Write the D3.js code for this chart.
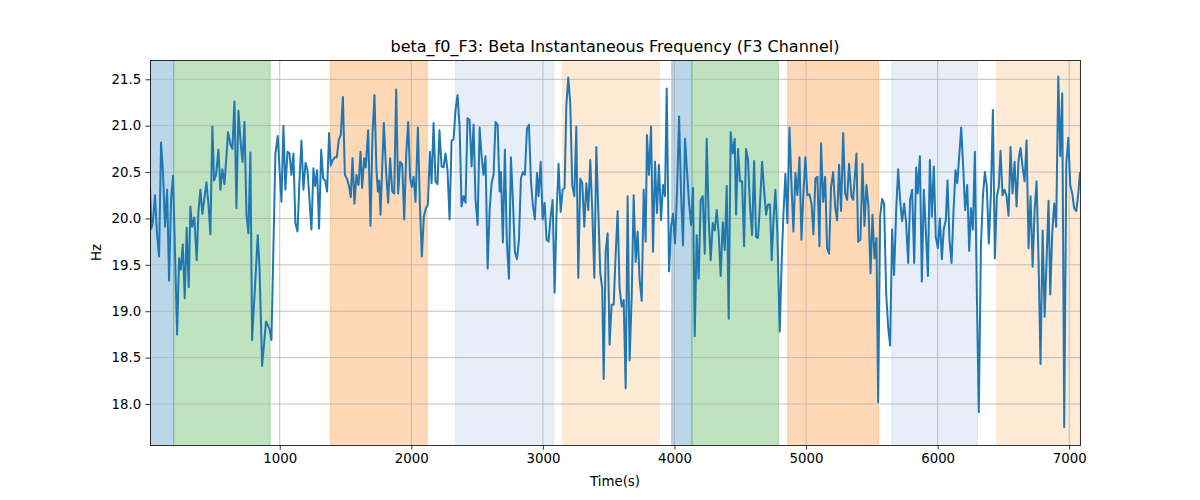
<!DOCTYPE html>
<html>
<head>
<meta charset="utf-8">
<script src="https://cdn.jsdelivr.net/npm/d3@7"></script>
<style>
  html, body { margin: 0; padding: 0; background: #ffffff; }
  svg { display: block; font-family: "DejaVu Sans", sans-serif; }
</style>
</head>
<body>
<svg id="chart" width="1200" height="500"></svg>
<script>
// ---- data ----
const times = [
  14, 24, 35, 52, 67, 83, 98, 113, 128, 144, 159, 174, 189, 220, 235, 248, 263, 278, 293, 308,
  321, 334, 351, 369, 382, 397, 412, 443, 458, 473, 488, 501, 516, 534, 549, 564, 580, 595, 607, 625,
  640, 656, 671, 686, 704, 717, 732, 747, 762, 777, 790, 833, 846, 866, 896, 922, 937,
  967, 985, 1000, 1013, 1028, 1043, 1059, 1074, 1089, 1104, 1119, 1135, 1150, 1165, 1180, 1196, 1211, 1226, 1241, 1256,
  1269, 1284, 1299, 1315, 1330, 1345, 1360, 1375, 1388, 1403, 1419, 1434, 1449, 1464, 1480, 1495, 1510, 1525, 1540, 1553,
  1568, 1583, 1599, 1614, 1626, 1642, 1654, 1672, 1690, 1705, 1720, 1735, 1746, 1756, 1766, 1791,
  1809, 1824, 1839, 1855, 1870, 1885, 1900, 1915, 1931, 1946, 1961, 1976, 1991, 2004, 2017, 2032, 2050, 2065, 2080, 2095,
  2111, 2126, 2141, 2154, 2169, 2184, 2199, 2214, 2230, 2245, 2260, 2275, 2291, 2306, 2321, 2336, 2351, 2367, 2382, 2397,
  2412, 2427, 2443, 2458, 2473, 2488, 2504, 2519, 2534, 2549, 2564, 2580, 2595, 2610, 2625, 2640, 2656, 2671,
  2681, 2696, 2711, 2726, 2742, 2757, 2772, 2787, 2803, 2818, 2833, 2848, 2863, 2879, 2894, 2909, 2924, 2939, 2955, 2967,
  2983, 2998, 3013, 3028, 3043, 3059, 3074, 3089, 3104, 3119, 3135, 3150, 3165, 3178, 3193, 3208, 3223, 3239, 3254, 3269,
  3284, 3299, 3315, 3330, 3345, 3360, 3375, 3391, 3406, 3421, 3436, 3451, 3462, 3477, 3492, 3507, 3522, 3538, 3553, 3568,
  3583, 3599, 3614, 3629, 3644, 3659, 3675, 3690, 3705, 3720, 3735, 3751, 3766, 3781, 3791, 3806, 3822, 3837, 3852, 3867,
  3882, 3898, 3913, 3928, 3941, 3959, 3974, 3989, 4004, 4019, 4035, 4050, 4065, 4080, 4095, 4111, 4126, 4141, 4154, 4169,
  4184, 4199, 4215, 4230, 4245, 4260, 4275, 4291, 4306, 4321, 4336, 4351, 4367, 4382, 4397, 4412, 4427, 4443, 4458,
  4468, 4483, 4498, 4514, 4529, 4544, 4559, 4574, 4590, 4605, 4620, 4635, 4650, 4666, 4681, 4696, 4711, 4726, 4739, 4754,
  4767, 4782, 4800, 4815, 4828, 4843, 4858, 4874, 4889, 4904, 4919, 4934, 4950, 4965, 4980, 4995, 5010, 5026, 5041, 5056,
  5071, 5086, 5102, 5114, 5130, 5145, 5160, 5175, 5190, 5206, 5221, 5236, 5251, 5266, 5282, 5297, 5312, 5327, 5345,
  5358, 5383, 5396, 5413, 5429, 5444, 5459, 5474, 5490, 5505, 5520, 5535, 5548, 5563, 5578, 5593, 5609, 5624, 5639, 5654,
  5669, 5685, 5700, 5715, 5730, 5746, 5761, 5776, 5791, 5806, 5822, 5837, 5849, 5865, 5880, 5895, 5910, 5926, 5941, 5956,
  5971, 5986, 6002, 6017, 6032, 6047, 6062, 6075, 6090, 6106, 6121, 6136, 6149, 6164, 6179, 6194, 6209, 6225, 6240,
  6253, 6268, 6283, 6298, 6313, 6329, 6344, 6359, 6374, 6389, 6405, 6420, 6435, 6450, 6465, 6478, 6493, 6509, 6524, 6539,
  6554, 6569, 6585, 6600, 6615, 6630, 6645, 6661, 6676, 6691, 6706, 6722, 6737, 6752, 6767, 6782, 6798, 6813, 6828, 6843,
  6856, 6871, 6886, 6901, 6917, 6932, 6947, 6962, 6978, 6993, 7008, 7023, 7038, 7054, 7069, 7082
];
const freqHz = [
  20.34, 19.89, 19.95, 20.25, 19.84, 19.59, 20.82, 20.49, 19.91, 20.31, 19.33, 20.20, 20.46, 18.75, 19.57, 19.45, 19.72, 19.14, 19.90, 19.26,
  20.13, 19.91, 20.01, 19.55, 20.07, 20.31, 20.05, 20.39, 20.16, 19.83, 20.99, 20.41, 20.47, 20.74, 20.31, 20.53, 20.37, 20.67, 20.93, 20.80,
  20.75, 21.26, 20.11, 21.16, 20.80, 20.61, 21.04, 20.05, 19.84, 20.71, 18.69, 19.82, 19.48, 18.41, 18.89, 18.81, 18.69,
  20.70, 20.89, 20.49, 20.18, 21.00, 20.31, 20.72, 20.70, 20.47, 20.70, 19.95, 19.86, 20.41, 20.84, 20.31, 20.60, 20.52, 20.20, 19.88, 20.54,
  20.35, 20.52, 19.89, 20.74, 20.43, 20.41, 20.29, 20.92, 20.57, 20.63, 20.66, 20.66, 20.85, 20.90, 21.31, 20.47, 20.43, 20.36, 20.23, 20.65,
  20.16, 20.47, 20.36, 20.72, 20.33, 20.65, 20.55, 20.95, 19.92, 20.90, 21.33, 20.52, 20.29, 20.41, 20.04, 21.03,
  20.49, 20.17, 20.65, 20.29, 20.27, 21.39, 20.27, 20.61, 20.58, 19.99, 20.68, 21.04, 20.43, 20.34, 20.45, 20.18, 20.98, 20.16, 19.59, 20.02,
  20.11, 20.15, 20.72, 20.38, 21.03, 20.40, 20.37, 20.95, 20.56, 20.55, 20.70, 20.52, 19.99, 20.84, 20.85, 21.17, 21.33, 20.99, 20.13, 20.24,
  20.17, 21.08, 21.06, 20.56, 21.01, 20.20, 19.93, 20.98, 20.67, 20.47, 20.67, 19.46, 20.09, 20.38, 20.47, 21.04, 21.01, 20.29,
  20.50, 19.74, 20.74, 19.75, 19.35, 20.66, 20.20, 19.64, 19.56, 19.77, 20.43, 20.50, 20.47, 20.97, 21.01, 20.41, 20.14, 19.99, 20.49, 20.24,
  20.61, 19.99, 20.17, 19.77, 19.75, 20.02, 20.20, 19.20, 20.07, 20.59, 20.07, 20.31, 20.33, 21.21, 21.52, 21.24, 20.36, 20.24, 20.99, 19.36,
  20.43, 20.38, 19.91, 20.38, 20.09, 20.63, 20.09, 19.36, 20.77, 20.09, 19.41, 19.25, 18.27, 19.64, 19.84, 18.64, 19.07, 19.07, 19.61, 20.08,
  19.25, 19.05, 19.12, 18.17, 20.24, 18.47, 19.16, 20.25, 19.53, 19.86, 19.34, 19.11, 20.31, 19.75, 20.90, 20.47, 20.99, 19.64, 20.61, 20.06,
  20.58, 19.98, 20.36, 20.24, 21.40, 19.43, 19.91, 20.05, 19.73, 20.27, 21.10, 20.27, 19.71, 20.86, 20.52, 20.16, 19.93, 20.33, 18.73, 19.82,
  19.35, 20.20, 20.24, 19.62, 20.86, 20.00, 19.55, 19.95, 19.87, 20.09, 19.84, 19.38, 19.96, 19.66, 20.35, 18.92, 20.93, 20.70, 20.86,
  20.04, 20.75, 20.40, 20.40, 19.70, 20.75, 20.63, 20.13, 19.82, 20.62, 19.80, 19.79, 20.16, 20.61, 20.31, 20.04, 20.15, 20.15, 19.55, 20.02,
  20.31, 19.84, 18.78, 19.55, 20.04, 20.48, 19.95, 20.98, 20.38, 19.86, 20.49, 20.25, 20.66, 19.77, 20.27, 20.66, 20.25, 20.26, 20.16, 19.83,
  20.43, 20.45, 19.70, 20.81, 20.18, 20.45, 19.68, 19.62, 20.34, 20.50, 20.13, 19.98, 20.58, 20.08, 20.92, 20.27, 20.20, 20.59, 20.24,
  20.20, 20.70, 19.75, 19.77, 20.59, 19.92, 20.36, 20.13, 19.41, 20.04, 19.57, 19.79, 18.02, 20.02, 20.21, 20.16, 19.19, 18.83, 18.63, 19.88,
  19.39, 20.09, 20.53, 20.20, 19.97, 20.16, 19.95, 19.52, 20.20, 20.31, 19.52, 20.55, 20.27, 20.67, 19.32, 20.31, 19.88, 19.38, 20.63, 20.02,
  20.56, 19.80, 19.68, 20.00, 19.56, 19.89, 19.98, 20.41, 19.77, 19.52, 20.09, 20.52, 20.38, 20.67, 20.98, 20.56, 20.09, 20.36, 19.65,
  20.11, 19.88, 20.72, 19.19, 17.91, 19.70, 20.24, 20.50, 20.34, 19.73, 20.27, 21.17, 19.57, 20.24, 20.34, 20.73, 20.25, 20.31, 20.24, 20.03,
  20.77, 20.27, 20.61, 20.13, 20.63, 20.76, 20.56, 20.40, 20.84, 19.68, 20.24, 19.48, 20.09, 20.40, 19.55, 18.43, 19.87, 18.94, 19.55, 20.19,
  19.18, 19.84, 20.16, 19.91, 21.53, 20.67, 21.35, 17.75, 20.59, 20.87, 20.36, 20.27, 20.11, 20.08, 20.27, 20.50
];
// shaded segments: start, end, kind
const bandStarts = [14, 194, 1386, 2336, 3150, 3979, 4133, 4860, 5652, 6450];
const bandEnds   = [194, 927, 2121, 3082, 3885, 4133, 4790, 5551, 6303, 7082];
const bandKinds  = ["blue", "green", "orange", "lightblue", "lightorange", "blue", "green", "orange", "lightblue", "lightorange"];
const xTickValues = [1000, 2000, 3000, 4000, 5000, 6000, 7000];
const yTickValues = [18.0, 18.5, 19.0, 19.5, 20.0, 20.5, 21.0, 21.5];
const xDomain = [14, 7082];
const yDomain = [17.558, 21.708];
const titleText = "beta_f0_F3: Beta Instantaneous Frequency (F3 Channel)";
const xLabelText = "Time(s)";
const yLabelText = "Hz";

// ---- styling ----
const bandColors = {
  blue: "#1f77b4", green: "#2ca02c", orange: "#ff7f0e",
  lightblue: "#aec7e8", lightorange: "#ffbb78"
};
const margin = { left: 150, right: 120, top: 60, bottom: 55 };
const W = 1200, H = 500;
const iw = W - margin.left - margin.right;
const ih = H - margin.top - margin.bottom;

const svg = d3.select("#chart");
svg.append("rect").attr("width", W).attr("height", H).attr("fill", "#ffffff");

const x = d3.scaleLinear().domain(xDomain).range([0, iw]);
const y = d3.scaleLinear().domain(yDomain).range([ih, 0]);

const g = svg.append("g").attr("transform", `translate(${margin.left},${margin.top})`);

const clipId = "plotclip";
svg.append("defs").append("clipPath").attr("id", clipId)
  .append("rect").attr("width", iw).attr("height", ih);

const plot = g.append("g").attr("clip-path", `url(#${clipId})`);

// bands
const bands = bandStarts.map((s, i) => ({ s, e: bandEnds[i], k: bandKinds[i] }));
plot.selectAll("rect.band").data(bands).join("rect")
  .attr("class", "band")
  .attr("x", d => x(d.s))
  .attr("width", d => x(d.e) - x(d.s))
  .attr("y", -2)
  .attr("height", ih + 4)
  .attr("fill", d => bandColors[d.k])
  .attr("fill-opacity", 0.3)
  .attr("stroke", d => bandColors[d.k])
  .attr("stroke-opacity", 0.3)
  .attr("stroke-width", 1);

// grid
plot.selectAll("line.gx").data(xTickValues).join("line")
  .attr("class", "gx")
  .attr("x1", d => x(d)).attr("x2", d => x(d))
  .attr("y1", 0).attr("y2", ih)
  .attr("stroke", "#b0b0b0").attr("stroke-width", 0.8);
plot.selectAll("line.gy").data(yTickValues).join("line")
  .attr("class", "gy")
  .attr("x1", 0).attr("x2", iw)
  .attr("y1", d => y(d)).attr("y2", d => y(d))
  .attr("stroke", "#b0b0b0").attr("stroke-width", 0.8);

// line
const pts = times.map((t, i) => [t, freqHz[i]]);
const line = d3.line().x(d => x(d[0])).y(d => y(d[1]));
plot.append("path").datum(pts)
  .attr("d", line)
  .attr("fill", "none")
  .attr("stroke", "#1f77b4")
  .attr("stroke-width", 2)
  .attr("stroke-linejoin", "round")
  .attr("stroke-linecap", "butt");

// axes
const xAxis = d3.axisBottom(x).tickValues(xTickValues).tickFormat(d3.format("d"))
  .tickSizeInner(4.67).tickSizeOuter(0).tickPadding(4.2);
const yAxis = d3.axisLeft(y).tickValues(yTickValues).tickFormat(d3.format(".1f"))
  .tickSizeInner(4.67).tickSizeOuter(0).tickPadding(4.2);

const gx = g.append("g").attr("transform", `translate(0,${ih})`).call(xAxis);
const gy = g.append("g").call(yAxis);
[gx, gy].forEach(a => {
  a.select(".domain").remove();
  a.selectAll(".tick line").attr("stroke", "#000").attr("stroke-width", 0.8);
  a.selectAll(".tick text").attr("fill", "#000")
    .style("font-family", "'DejaVu Sans', sans-serif").style("font-size", "13.33px");
});

// spines
g.append("rect").attr("x", 0).attr("y", 0).attr("width", iw).attr("height", ih)
  .attr("fill", "none").attr("stroke", "#000").attr("stroke-width", 0.8)
  .attr("shape-rendering", "crispEdges");

// title and labels
svg.append("text").attr("x", margin.left + iw / 2).attr("y", 52)
  .attr("text-anchor", "middle").attr("font-size", "16px").attr("fill", "#000")
  .text(titleText);
svg.append("text").attr("x", margin.left + iw / 2).attr("y", 486)
  .attr("text-anchor", "middle").attr("font-size", "13.33px").attr("fill", "#000")
  .text(xLabelText);
svg.append("text").attr("transform", `translate(101,${margin.top + ih / 2}) rotate(-90)`)
  .attr("text-anchor", "middle").attr("font-size", "13.33px").attr("fill", "#000")
  .text(yLabelText);
</script>
</body>
</html>
